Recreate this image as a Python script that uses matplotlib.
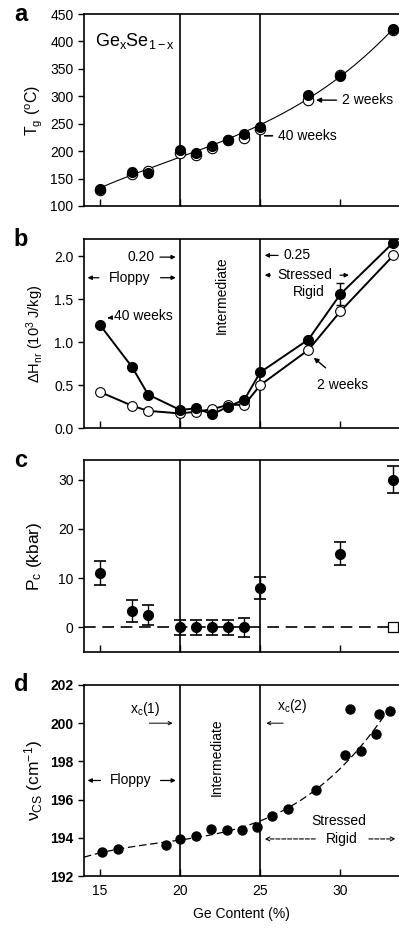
import numpy as np
import matplotlib
matplotlib.use("Agg")
import matplotlib.pyplot as plt

plt.rcParams['font.family'] = ['Liberation Sans', 'DejaVu Sans']
plt.rcParams['mathtext.fontset'] = 'custom'
plt.rcParams['mathtext.rm'] = 'Liberation Sans'
plt.rcParams['mathtext.it'] = 'Liberation Sans'

# (a) glass transition temperature
tg_x = [15, 17, 18, 20, 21, 22, 23, 24, 25, 28, 30, 33.3]
tg_40w = [131, 162, 160, 202, 197, 209, 221, 231, 244, 302, 337, 422]
tg_2w = [130, 159, 163, 196, 193, 206, 220, 224, 240, 294, 339, 420]

# (b) non-reversing enthalpy
dh_x = [15, 17, 18, 20, 21, 22, 23, 24, 25, 28, 30, 33.3]
dh_40w = [1.20, 0.71, 0.39, 0.21, 0.23, 0.16, 0.25, 0.33, 0.65, 1.03, 1.56, 2.16]
dh_2w = [0.42, 0.26, 0.20, 0.17, 0.19, 0.22, 0.27, 0.27, 0.50, 0.91, 1.36, 2.01]
dh_err_x = [30]
dh_err = [0.13]

# (c) threshold pressure
pc_x = [15, 17, 18, 20, 21, 22, 23, 24, 25, 30, 33.3]
pc = [11.0, 3.3, 2.5, 0.0, 0.0, 0.0, 0.0, 0.0, 8.0, 15.0, 30.0]
pc_err = [2.4, 2.2, 2.0, 1.5, 1.5, 1.5, 1.5, 2.0, 2.2, 2.4, 2.7]
pc_open_x = [33.3]
pc_open = [0.0]

# (d) corner-sharing Raman mode
vcs_x = [15.15, 16.1, 19.1, 20.0, 21.0, 21.9, 22.9, 23.85, 24.8, 25.7, 26.7,
         28.5, 30.3, 30.6, 31.25, 32.2, 32.4, 33.06]
vcs = [193.24, 193.40, 193.60, 193.94, 194.10, 194.44, 194.40, 194.40, 194.55,
       195.16, 195.50, 196.50, 198.33, 200.74, 198.54, 199.42, 200.48, 200.64]

xlim = (14, 33.65)
fig = plt.figure(figsize=(3.99, 9.35), dpi=100)
W = 1.0 - 0.2105
ax_a = fig.add_axes([0.2105, 0.7797, W, 0.2053])
ax_b = fig.add_axes([0.2105, 0.5422, W, 0.2021])
ax_c = fig.add_axes([0.2105, 0.3027, W, 0.2053])
ax_d = fig.add_axes([0.2105, 0.0631, W, 0.2043])

for ax, lab in zip([ax_a, ax_b, ax_c, ax_d], "abcd"):
    ax.set_xlim(*xlim)
    ax.set_xticks([15, 20, 25, 30])
    ax.tick_params(axis='x', direction='in', length=5, width=1)
    ax.tick_params(axis='y', direction='out', length=4, width=1, labelsize=10)
    ax.spines['right'].set_visible(False)
    for s in ['left', 'top', 'bottom']:
        ax.spines[s].set_linewidth(1.2)
    ax.axvline(20, color='k', lw=1.2, zorder=1)
    ax.axvline(25, color='k', lw=1.2, zorder=1)
    ax.text(-0.2, 1.0, lab, transform=ax.transAxes, fontsize=17,
            fontweight='bold', ha='center', va='center')
    if ax is not ax_d:
        ax.set_xticklabels([])

# ---- a
fit = np.polyfit(tg_x, tg_40w, 3)
xx = np.linspace(15, 33.3, 200)
ax_a.plot(xx, np.polyval(fit, xx), color='k', lw=0.8)
ax_a.plot(tg_x, tg_2w, 'o', mfc='white', mec='k', ms=7.5, mew=0.8)
ax_a.plot(tg_x, tg_40w, 'o', color='k', ms=7)
ax_a.set_ylim(100, 450)
ax_a.set_yticks(range(100, 451, 50))
ax_a.set_ylabel('T$_g$ ($^o$C)', fontsize=11.5, labelpad=4)
ax_a.text(14.7, 400, 'Ge$_x$Se$_{1-x}$', fontsize=13, va='center')
ax_a.annotate('2 weeks', xy=(28.3, 293), xytext=(30.1, 293), fontsize=10,
              va='center', arrowprops=dict(arrowstyle='-|>', color='k', lw=1,
                                           mutation_scale=7))
ax_a.annotate('40 weeks', xy=(25.1, 228), xytext=(26.1, 228), fontsize=10,
              va='center', arrowprops=dict(arrowstyle='-', color='k', lw=1.2))

# ---- b
ax_b.plot(dh_x, dh_2w, '-o', color='k', mfc='white', mec='k', ms=7, lw=1.4, mew=0.8)
ax_b.plot(dh_x, dh_40w, '-o', color='k', ms=7, lw=1.4)
ax_b.errorbar(dh_err_x, [dh_40w[dh_x.index(30)]], yerr=dh_err, fmt='none',
              ecolor='k', capsize=3, lw=1)
ax_b.set_ylim(0, 2.2)
ax_b.set_yticks([0, 0.5, 1.0, 1.5, 2.0])
ax_b.set_ylabel('ΔH$_{nr}$ (10$^3$ J/kg)', fontsize=10.5, labelpad=6)
arr = dict(arrowstyle='-|>', color='k', lw=0.9, mutation_scale=6)
ax_b.annotate('0.20', xy=(19.9, 1.99), xytext=(16.7, 1.99), fontsize=10,
              va='center', arrowprops=arr)
ax_b.annotate('', xy=(14.05, 1.75), xytext=(15.1, 1.75), arrowprops=arr)
ax_b.annotate('', xy=(19.9, 1.75), xytext=(18.6, 1.75), arrowprops=arr)
ax_b.text(16.85, 1.75, 'Floppy', fontsize=10, ha='center', va='center')
ax_b.text(22.6, 1.55, 'Intermediate', fontsize=10, rotation=90,
          ha='center', va='center')
ax_b.annotate('0.25', xy=(25.1, 2.01), xytext=(27.3, 2.01), fontsize=10,
              ha='center', va='center', arrowprops=arr)
ax_b.annotate('', xy=(25.1, 1.78), xytext=(25.8, 1.78), arrowprops=arr)
ax_b.text(27.8, 1.78, 'Stressed', fontsize=10, ha='center', va='center')
ax_b.annotate('', xy=(30.7, 1.78), xytext=(29.8, 1.78), arrowprops=arr)
ax_b.text(28.0, 1.58, 'Rigid', fontsize=10, ha='center', va='center')
ax_b.annotate('40 weeks', xy=(15.3, 1.28), xytext=(15.9, 1.31), fontsize=10,
              va='center', arrowprops=arr)
ax_b.annotate('', xy=(28.2, 0.84), xytext=(29.2, 0.68),
              arrowprops=dict(arrowstyle='-|>', color='k', lw=1, mutation_scale=7))
ax_b.text(30.1, 0.5, '2 weeks', fontsize=10, ha='center', va='center')

# ---- c
ax_c.axhline(0, color='k', lw=1.2, ls=(0, (7, 4)), zorder=1)
ax_c.errorbar(pc_x, pc, yerr=pc_err, fmt='o', color='k', ms=7, capsize=4,
              lw=1, capthick=1.2)
ax_c.plot(pc_open_x, pc_open, 's', mfc='white', mec='k', ms=7, mew=0.9,
          clip_on=False, zorder=5)
ax_c.set_ylim(-5, 34)
ax_c.set_yticks([0, 10, 20, 30])
ax_c.set_ylabel('P$_c$ (kbar)', fontsize=12.5, labelpad=10)

# ---- d
mask = [i for i in range(len(vcs_x)) if i != vcs_x.index(30.6)]
fit_d = np.polyfit([vcs_x[i] for i in mask], [vcs[i] for i in mask], 3)
xd = np.linspace(14, 33.2, 200)
ax_d.plot(xd, np.polyval(fit_d, xd), color='k', lw=0.9, ls=(0, (6, 3)))
ax_d.plot(vcs_x, vcs, 'o', color='k', ms=6.5)
ax_d.set_ylim(192, 202)
ax_d.set_yticks(range(192, 203, 2))
for t in ax_d.get_yticklabels():
    t.set_fontweight('bold')
ax_d.tick_params(axis='x', labelsize=10, pad=6)
ax_d.set_ylabel('$\\nu_{CS}$ (cm$^{-1}$)', fontsize=12.5, labelpad=4)
ax_d.set_xlabel('Ge Content (%)', fontsize=10, labelpad=6)
thin = dict(arrowstyle='->', color='k', lw=0.7, mutation_scale=6)
ax_d.text(17.8, 200.75, 'x$_c$(1)', fontsize=10, ha='center', va='center')
ax_d.annotate('', xy=(19.7, 200.0), xytext=(17.9, 200.0), arrowprops=thin)
ax_d.text(22.3, 198.2, 'Intermediate', fontsize=10, rotation=90,
          ha='center', va='center')
ax_d.text(27.0, 200.9, 'x$_c$(2)', fontsize=10, ha='center', va='center')
ax_d.annotate('', xy=(25.2, 200.0), xytext=(26.6, 200.0), arrowprops=thin)
ax_d.annotate('', xy=(14.05, 197.0), xytext=(15.2, 197.0), arrowprops=arr)
ax_d.annotate('', xy=(19.9, 197.0), xytext=(18.6, 197.0), arrowprops=arr)
ax_d.text(16.9, 197.0, 'Floppy', fontsize=10, ha='center', va='center')
ax_d.text(29.9, 194.9, 'Stressed', fontsize=10, ha='center', va='center')
ax_d.text(30.1, 193.94, 'Rigid', fontsize=10, ha='center', va='center')
dash = dict(arrowstyle='->', color='k', lw=0.8, ls='--', mutation_scale=7)
ax_d.annotate('', xy=(25.1, 193.94), xytext=(28.6, 193.94), arrowprops=dash)
ax_d.annotate('', xy=(33.6, 193.94), xytext=(31.6, 193.94), arrowprops=dash)

fig.savefig('out.png', dpi=100)
